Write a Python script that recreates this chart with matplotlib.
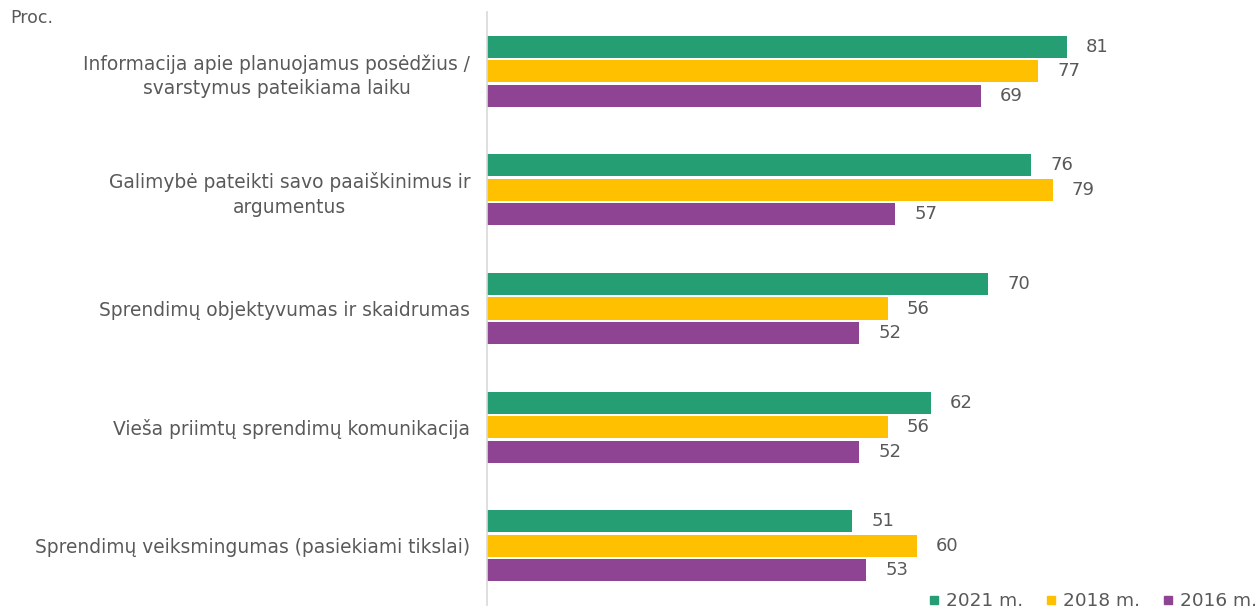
import matplotlib
matplotlib.use("Agg")
import matplotlib.pyplot as plt
import numpy as np

categories = [
    "Informacija apie planuojamus posėdžius /\nsvarstymus pateikiama laiku",
    "Galimybė pateikti savo paaiškinimus ir\nargumentus",
    "Sprendimų objektyvumas ir skaidrumas",
    "Vieša priimtų sprendimų komunikacija",
    "Sprendimų veiksmingumas (pasiekiami tikslai)",
]
series_names = ["2021 m.", "2018 m.", "2016 m."]
values_2021 = [81, 76, 70, 62, 51]
values_2018 = [77, 79, 56, 56, 60]
values_2016 = [69, 57, 52, 52, 53]
colors = ["#259E74", "#FFC000", "#8E4393"]
text_color = "#595959"

plt.rcParams['font.family'] = ['DejaVu Sans']

fig = plt.figure(figsize=(12.58, 6.12), dpi=100)
ax = fig.add_axes([487/1258, 1-605/612, (1230-487)/1258, (605-12)/612])

y = np.arange(len(categories))
step = 0.207
height = 0.186
all_vals = [values_2021, values_2018, values_2016]
for i, (vals, name, c) in enumerate(zip(all_vals, series_names, colors)):
    pos = y + (i - 1) * step
    bars = ax.barh(pos, vals, height=height, color=c, label=name)
    for b, v in zip(bars, vals):
        ax.annotate(str(v), (v, b.get_y() + b.get_height()/2), xytext=(19, 0),
                    textcoords="offset pixels",
                    ha="left", va="center", fontsize=13, color=text_color)

ax.set_xlim(0, (1230-487)/7.16)
ax.set_ylim(len(categories) - 0.5, -0.5)
ax.set_yticks(y)
ax.set_yticklabels(categories, fontsize=13.4, color=text_color, ha="right",
                   multialignment="center", linespacing=1.35)
ax.tick_params(axis="y", length=0, pad=12)
ax.set_xticks([])
for s in ["top", "right", "bottom"]:
    ax.spines[s].set_visible(False)
ax.spines["left"].set_color("#D9D9D9")
ax.spines["left"].set_linewidth(1.2)

fig.text(10/1258, 1-18/612, "Proc.", fontsize=12.5, color=text_color, ha="left", va="center")

handles = [plt.Line2D([0], [0], marker="s", linestyle="", color=c, markersize=6) for c in colors]
fig.legend(handles, series_names, loc="lower right", bbox_to_anchor=(1.008, -0.015), ncol=3,
           frameon=False, fontsize=13.3, labelcolor=text_color, handletextpad=0.15,
           columnspacing=1.0, handlelength=1.0, borderaxespad=0.2)

fig.savefig("out.png", dpi=100)
